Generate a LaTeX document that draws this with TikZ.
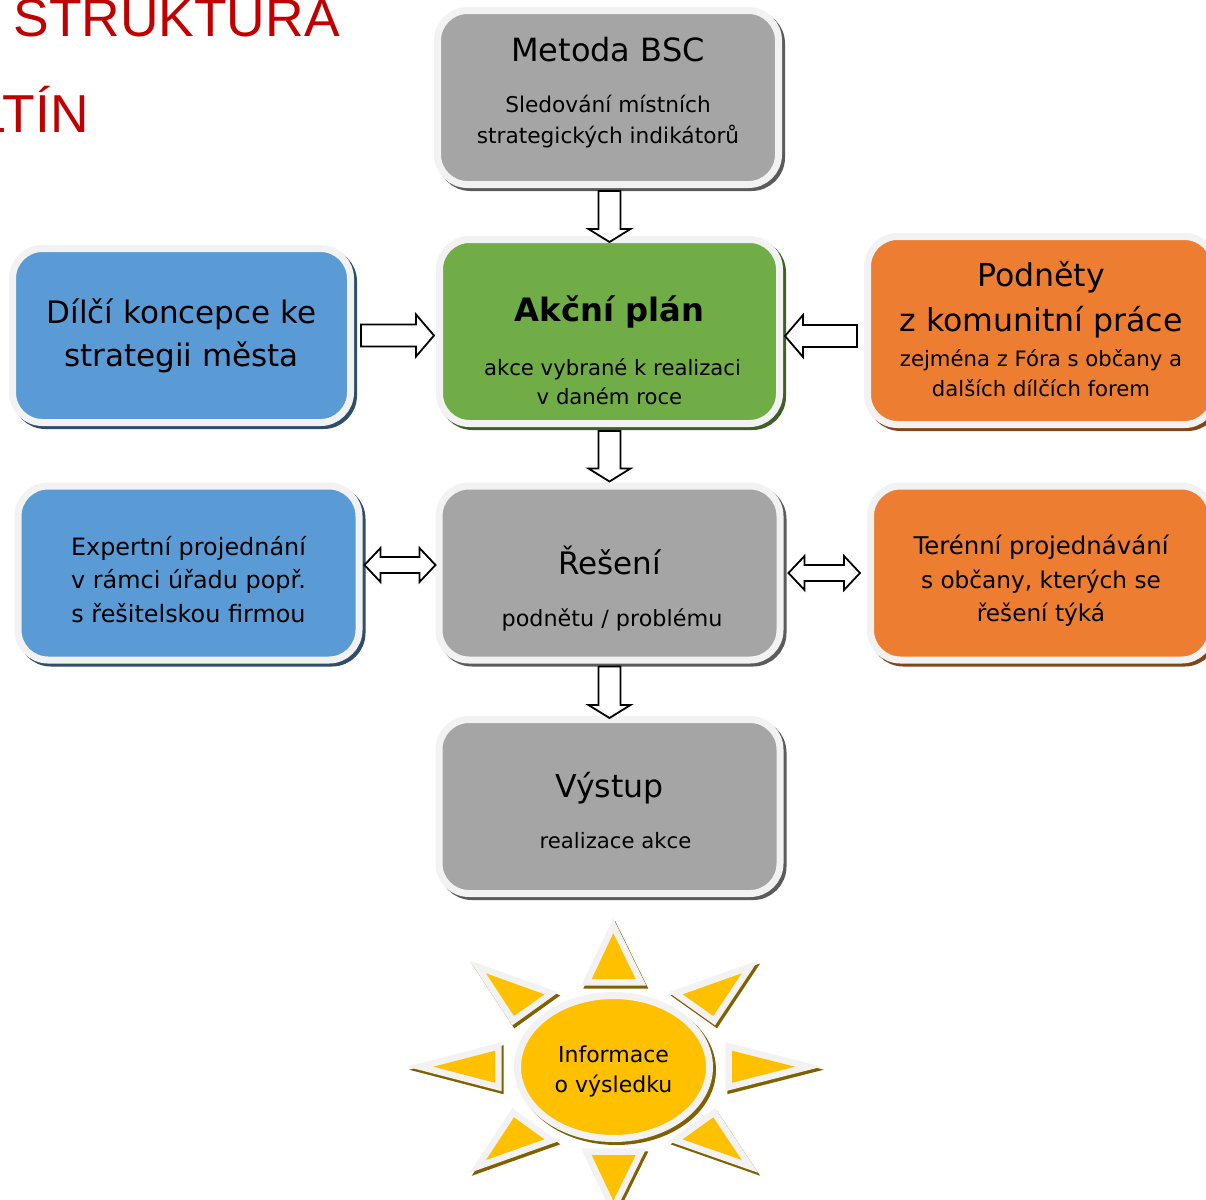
\documentclass[tikz,border=0pt]{standalone}
\usepackage{fontspec}
\setmainfont{DejaVu Sans}
\newfontfamily\titlefont{Liberation Sans}
\usepackage{tikz}
\usepackage{xcolor}
\usetikzlibrary{calc,shapes.geometric}
\definecolor{boxgrey}{HTML}{A5A5A5}
\definecolor{boxgreen}{HTML}{70AD47}
\definecolor{boxblue}{HTML}{5B9BD5}
\definecolor{boxorange}{HTML}{ED7D31}
\definecolor{boxgold}{HTML}{FFC000}
\definecolor{boxrim}{HTML}{F2F2F2}
\definecolor{titlered}{HTML}{C00000}
\newcommand{\headtxt}[2][15.5]{{\fontsize{#1}{18}\selectfont #2}}
\newcommand{\padtop}[1]{\rule{0pt}{#1}}
\newcommand{\padbot}[1]{\rule[-#1]{0pt}{#1}}
\tikzset{
    rimshadow/.style={preaction={draw=#1, fill=#1, transform canvas={shift={(1.5pt,-1.5pt)}}}},
    card/.style 2 args={draw=boxrim, fill=#1, line width=3.5pt, rounded corners=15pt, minimum width=170.5pt, minimum height=87pt, align=center, text=black, rimshadow=#2, font=\fontsize{11}{15}\selectfont},
    greycard/.style={card={boxgrey}{boxgrey!55!black}},
    greencard/.style={card={boxgreen}{boxgreen!55!black}},
    bluecard/.style={card={boxblue}{boxblue!50!black}},
    orangecard/.style={card={boxorange}{boxorange!55!black}},
    sunray/.style={fill=boxgold,
        preaction={draw=boxgold!50!black, line width=6.6pt, transform canvas={shift={(1pt,-1.5pt)}}},
        preaction={draw=boxrim, line width=6.6pt}},
    blockarrow/.style={draw=black, fill=white, line width=0.9pt, to path={
        let \p1=(\tikztostart), \p2=(\tikztotarget), \p3=($(\p2)!#1!(\p1)$) in
        ($(\p1)!5.5pt!90:(\p2)$) -- ($(\p3)!5.5pt!-90:(\p1)$) -- ($(\p3)!10.5pt!-90:(\p1)$) -- (\p2)
        -- ($(\p3)!10.5pt!90:(\p1)$) -- ($(\p3)!5.5pt!90:(\p1)$) -- ($(\p1)!5.5pt!-90:(\p2)$) -- cycle}},
    sidearrow/.style={draw=black, fill=white, line width=0.9pt, to path={
        let \p1=(\tikztostart), \p2=(\tikztotarget), \p3=($(\p2)!8pt!(\p1)$), \p4=($(\p1)!8pt!(\p2)$) in
        (\p1) -- ($(\p4)!8.5pt!90:(\p2)$) -- ($(\p4)!4pt!90:(\p2)$) -- ($(\p3)!4pt!-90:(\p1)$) -- ($(\p3)!8.5pt!-90:(\p1)$) -- (\p2)
        -- ($(\p3)!8.5pt!90:(\p1)$) -- ($(\p3)!4pt!90:(\p1)$) -- ($(\p4)!4pt!-90:(\p2)$) -- ($(\p4)!8.5pt!-90:(\p2)$) -- cycle}}
}
\begin{document}
\begin{tikzpicture}[x=0.5pt, y=-0.5pt]
            \useasboundingbox (0,0) rectangle (1206,1200);
            \node[anchor=base west, inner sep=0pt, text=titlered, font=\titlefont\fontsize{26.7}{30}\selectfont] (T1) at (13,36) {STRUKTURA};
            \node[anchor=base east, inner sep=0pt, text=titlered, font=\titlefont\fontsize{26.7}{30}\selectfont] (T2) at (89,132) {LTÍN};
            % main column
            \node[greencard, minimum height=92pt, minimum width=170pt, font=\fontsize{10.6}{14.5}\selectfont] (AP) at (609.5,331.5) {\padtop{32pt}{\fontsize{16.1}{20}\selectfont\bfseries Akční plán}\\[12.5pt] \hspace*{3pt}akce vybrané k realizaci\\v daném roce};
            \node[greycard, above of=AP, node distance=117pt, xshift=-0.75pt, font=\fontsize{10.85}{15.5}\selectfont] (BSC) {\headtxt[16]{Metoda BSC}\\[10pt] Sledování místních\\\padbot{7pt}strategických indikátorů};
            \node[greycard, below of=AP, node distance=120.75pt, font=\fontsize{11.15}{15}\selectfont] (RE) {\padtop{29.7pt}\headtxt{Řešení}\\[11pt] \hspace*{2.5pt}podnětu / problému};
            \node[greycard, below of=RE, node distance=116.75pt, font=\fontsize{10.6}{15}\selectfont] (VY) {\padtop{17pt}\headtxt[15.8]{Výstup}\\[10.5pt] \hspace*{6pt}realizace akce};
            % left and right
            \node[bluecard, left of=AP, node distance=214pt, yshift=-2pt, minimum width=169pt, font=\fontsize{15.5}{21.5}\selectfont] (DK) {Dílčí koncepce ke\\strategii města};
            \node[orangecard, right of=AP, node distance=215.75pt, yshift=0.5pt, minimum height=94pt, minimum width=173.5pt, font=\fontsize{10.6}{15}\selectfont] (PK) {\headtxt[15.8]{Podněty}\\[5.5pt] \headtxt[15.8]{z komunitní práce}\\[2.5pt] zejména z Fóra s občany a\\\padbot{2pt}dalších dílčích forem};
            \node[bluecard, left of=RE, node distance=210.5pt, font=\fontsize{11.95}{16.75}\selectfont] (EP) {\padtop{15.7pt}Expertní projednání\\v rámci úřadu popř.\\s řešitelskou firmou};
            \node[orangecard, right of=RE, node distance=215.75pt, font=\fontsize{11.6}{16.75}\selectfont] (TP) {\padtop{17.7pt}{\fontsize{12.2}{16.75}\selectfont Terénní projednávání}\\s občany, kterých se\\řešení týká};
            % sun
            \foreach \ax/\ay/\bx/\by/\cx/\cy in {
                613.3/933.3/591.7/979/635.7/979,
                741.7/973.3/682.7/994.3/713.3/1016,
                732/1050.7/795/1066.7/732/1082.7,
                682.7/1139.3/713.3/1117.3/741.7/1160,
                591.7/1155/635.7/1155/613.3/1200.7,
                486/1160/514/1117.3/544.3/1139.3,
                495/1050.7/433.3/1066.7/495/1082.7,
                486/973.3/544.3/994.3/514/1016}
                \path[sunray] (\ax,\ay) -- (\bx,\by) -- (\cx,\cy) -- cycle;
            \node[ellipse, draw=boxrim, fill=boxgold, line width=3.5pt, minimum width=96pt, minimum height=71.5pt, inner sep=0pt, align=center, rimshadow=boxgold!50!black, font=\fontsize{11}{15}\selectfont] (INF) at (613.5,1067) {\padtop{12.4pt}Informace\\o výsledku};
            % connectors
            \draw[blockarrow=6.5pt] ([xshift=0.75pt,yshift=-1.5pt]BSC.south) to ([yshift=-3pt]AP.north);
            \draw[blockarrow=9pt] ([xshift=3.5pt]DK.east) to ([xshift=-1pt,yshift=-2pt]AP.west);
            \draw[blockarrow=9pt] ([xshift=-3.5pt,yshift=-2.75pt]PK.west) to ([xshift=1pt,yshift=-2.25pt]AP.east);
            \draw[blockarrow=6.5pt] ([yshift=-2pt]AP.south) to ([yshift=0.5pt]RE.north);
            \draw[blockarrow=6.5pt] ([yshift=-1.5pt]RE.south) to ([yshift=-1pt]VY.north);
            \draw[sidearrow] ([xshift=1pt,yshift=4pt]EP.east) to ([yshift=4pt]RE.west);
            \draw[sidearrow] ([xshift=2.5pt]RE.east) to ([xshift=-3.5pt]TP.west);
\end{tikzpicture}
\end{document}
